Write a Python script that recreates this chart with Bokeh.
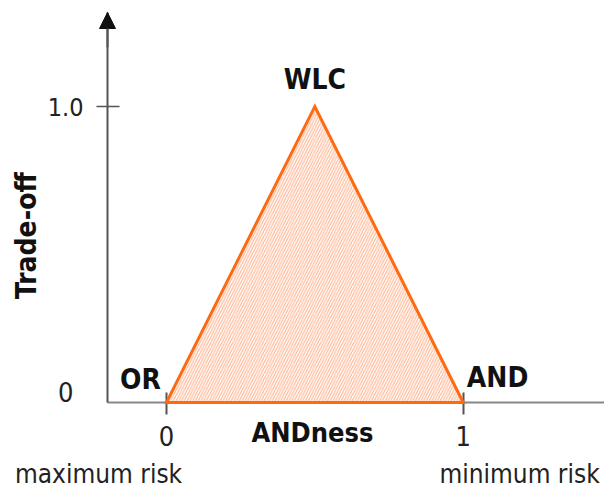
import math
from bokeh.plotting import figure
from bokeh.models import Label, Arrow, NormalHead, FixedTicker, Range1d
from bokeh.embed import file_html
from bokeh.resources import INLINE

# data
andness = [0.0, 0.5, 1.0]
tradeoff = [0.0, 1.0, 0.0]
x_ticks = [0, 1]
x_tick_labels = {0: "0", 1: "1"}
y_ticks = [1]
y_tick_labels = {1: "1.0"}
vertex_names = ["OR", "WLC", "AND"]

FONT = "DejaVu Sans Condensed"
W, H = 604, 491
PX_X, ORG_X = 296.7, 166.0   # px per unit, page x of x=0
PX_Y, ORG_Y = 296.0, 402.0   # px per unit, page y of y=0
X0, X1 = -ORG_X / PX_X, (W - ORG_X) / PX_X
Y0, Y1 = (ORG_Y - H) / PX_Y, ORG_Y / PX_Y
XAX = (107 - ORG_X) / PX_X       # where the y axis sits
YTOP = (ORG_Y - 12) / PX_Y       # arrow tip

p = figure(width=W, height=H, output_backend="svg", toolbar_location=None,
           x_range=Range1d(X0, X1), y_range=Range1d(Y0, Y1),
           min_border=0, min_border_left=0, min_border_right=0,
           min_border_top=0, min_border_bottom=0)
p.grid.visible = False
p.outline_line_color = None
p.background_fill_color = "white"
p.border_fill_color = "white"

tri = p.patch(andness, tradeoff, fill_color="white", fill_alpha=0.0,
              hatch_pattern="/", hatch_color="#ffb896", hatch_weight=1.2, hatch_scale=5.5,
              line_color="#ff6a10", line_width=3, line_join="miter")
tri.level = "overlay"

# x axis
xa = p.xaxis[0]
xa.fixed_location = 0
xa.bounds = (XAX, X1)
xa.ticker = FixedTicker(ticks=x_ticks)
xa.major_label_overrides = x_tick_labels
xa.minor_tick_line_color = None
xa.axis_line_color = "#888888"
xa.axis_line_width = 2
xa.major_tick_line_color = "#555555"
xa.major_tick_line_width = 2
xa.major_tick_in = 10
xa.major_tick_out = 12
xa.major_label_standoff = 11
xa.major_label_text_font = FONT
xa.major_label_text_font_size = "27px"
xa.major_label_text_color = "#222222"

# y axis
ya = p.yaxis[0]
ya.fixed_location = XAX
ya.bounds = (0, YTOP)
ya.ticker = FixedTicker(ticks=y_ticks)
ya.major_label_overrides = y_tick_labels
ya.minor_tick_line_color = None
ya.axis_line_color = "#555555"
ya.axis_line_width = 2
ya.major_tick_line_color = "#555555"
ya.major_tick_line_width = 1.5
ya.major_tick_in = 12
ya.major_tick_out = 11
ya.major_label_standoff = 13
ya.major_label_text_font = FONT
ya.major_label_text_font_size = "25px"
ya.major_label_text_color = "#222222"

# arrow head on y axis
p.add_layout(Arrow(end=NormalHead(size=16, fill_color="#111111", line_color="#111111"),
                   x_start=XAX, y_start=1.2, x_end=XAX, y_end=YTOP,
                   line_color="#555555", line_width=2))

def lab(txt, x, y, bold=True, size="28px", align="center", angle=0.0, color="#111111"):
    p.add_layout(Label(x=x, y=y, text=txt, text_font=FONT,
                       text_font_style="bold" if bold else "normal",
                       text_font_size=size, text_align=align, text_baseline="middle",
                       angle=angle, text_color=color))

# vertex labels
lab(vertex_names[0], -0.088, 0.078)
lab(vertex_names[1], 0.5, 1.091)
lab(vertex_names[2], 1.116, 0.084)

# axis titles / annotations
lab("ANDness", 0.492, -0.101, size="27px")
lab("Trade-off", -0.472, 0.564, angle=math.pi / 2)
lab("0", -0.340, 0.037, bold=False, size="27px", color="#222222")
lab("maximum risk", -0.229, -0.243, bold=False, size="26px", color="#222222")
lab("minimum risk", 1.19, -0.243, bold=False, size="26px", color="#222222")

open("out.html", "w").write(file_html(p, INLINE))
